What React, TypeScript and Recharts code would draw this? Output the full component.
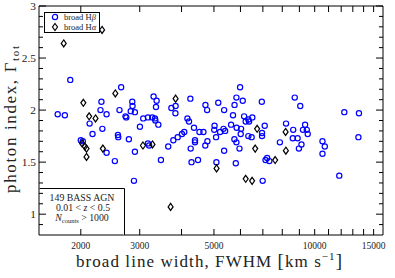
import { ScatterChart, Scatter, XAxis, YAxis, ReferenceArea, Legend, Label } from 'recharts';

// broad Hbeta sample: FWHM [km/s] and photon index
const hbetaFwhm = [
  1706, 1792, 1860, 2000, 2028, 2125, 2168, 2290, 2305, 2320, 2388, 2388, 2528, 2582, 2588, 2610,
  2640, 2720, 2735, 2784, 2820, 2850, 2855, 2883, 2902, 2902, 3004, 3073, 3174, 3174, 3200, 3270,
  3300, 3332, 3340, 3355, 3370, 3410, 3471, 3650, 3730, 3780, 3840, 3835, 3895, 4012, 4076, 4165,
  4211, 4250, 4260, 4284, 4358, 4388, 4388, 4480, 4525, 4650, 4710, 4715, 4770, 4780, 5020, 5010,
  5073, 5085, 5150, 5215, 5362, 5340, 5400, 5362, 5625, 5700, 5760, 5755, 5810, 5835, 5845, 5835,
  5960, 5984, 6025, 6010, 6095, 6152, 6220, 6335, 6368, 6510, 6335, 6480, 6950, 6960, 6960, 6990,
  7090, 7130, 7210, 7320, 7870, 8210, 8626, 8600, 8716, 8890, 8970, 9054, 9130, 9225, 9360, 9470,
  9530, 10550, 10720, 10550, 11842, 12260, 13560, 13510,
];
const hbetaGamma = [
  1.96, 1.95, 2.29, 1.71, 1.70, 1.87, 1.77, 2.00, 2.08, 1.82, 1.96, 1.59, 1.51, 1.76, 1.74, 2.00,
  2.22, 1.94, 1.93, 1.72, 1.99, 2.08, 2.04, 1.32, 1.98, 1.60, 1.84, 1.92, 1.93, 1.68, 1.66, 1.93,
  2.13, 1.92, 1.90, 2.03, 2.09, 1.86, 1.52, 1.65, 2.02, 1.71, 2.04, 1.97, 1.74, 1.77, 1.79, 1.92,
  1.89, 2.11, 1.63, 1.50, 1.83, 1.71, 1.69, 1.52, 1.79, 1.79, 1.66, 2.05, 2.00, 1.70, 1.85, 1.81,
  1.74, 1.50, 2.07, 1.79, 2.00, 1.82, 1.80, 1.61, 1.86, 1.95, 2.05, 1.72, 1.49, 2.12, 1.83, 1.69,
  1.63, 2.22, 1.82, 1.77, 2.09, 1.94, 1.89, 1.91, 1.89, 1.93, 1.75, 1.74, 2.08, 1.78, 1.75, 1.32,
  1.85, 1.52, 1.54, 1.51, 1.69, 1.87, 1.81, 1.73, 2.12, 1.73, 1.63, 2.04, 1.67, 1.81, 1.86, 1.81,
  1.77, 1.70, 1.65, 1.58, 1.37, 1.98, 1.97, 1.74,
];

// broad Halpha sample
const halphaFwhm = [
  1778, 2315, 2536, 2035, 2118, 2213, 2018, 2056, 2080, 2080, 2328, 3067, 3275, 3710, 3840, 5090,
  6220, 6500, 6640, 6729, 7618, 8185, 8200,
];
const halphaGamma = [
  2.64, 2.77, 2.16, 2.07, 1.94, 1.92, 1.68, 1.65, 1.63, 1.55, 1.63, 1.66, 1.67, 1.07, 2.11, 1.44,
  1.34, 1.32, 1.63, 1.82, 1.52, 1.79, 1.61,
];

const xTicks = [2000, 3000, 4000, 5000, 6000, 7000, 8000, 9000, 10000, 11000, 12000, 13000, 14000, 15000];
const xTickLabels = [2000, 3000, 5000, 10000, 15000];
const yTicks = [0.9, 1, 1.1, 1.2, 1.3, 1.4, 1.5, 1.6, 1.7, 1.8, 1.9, 2, 2.1, 2.2, 2.3, 2.4, 2.5, 2.6, 2.7, 2.8, 2.9, 3];
const yTickLabels = [1, 1.5, 2, 2.5, 3];

const hbeta = hbetaFwhm.map((fwhm, i) => ({ fwhm, gamma: hbetaGamma[i] }));
const halpha = halphaFwhm.map((fwhm, i) => ({ fwhm, gamma: halphaGamma[i] }));

const PLOT_W = 344;
const PLOT_H = 229;
const SERIF = '"Liberation Serif", "DejaVu Serif", serif';
const INK = '#222';
const BLUE = '#0000ff';

const Circle = ({ cx, cy }: any) => (
  <circle cx={cx} cy={cy} r={2.6} fill="none" stroke={BLUE} strokeWidth={1.2} />
);

const Diamond = ({ cx, cy }: any) => (
  <path
    d={`M${cx},${cy - 3.5}L${cx + 2.5},${cy}L${cx},${cy + 3.5}L${cx - 2.5},${cy}Z`}
    fill="none"
    stroke="#000"
    strokeWidth={1.2}
  />
);

// ticks point inward, mirrored onto the top edge
const XTick = ({ x, y, payload }: any) => {
  const v = payload.value;
  return (
    <g>
      <line x1={x} x2={x} y1={y} y2={y - 6} stroke="#000" />
      <line x1={x} x2={x} y1={y - PLOT_H} y2={y - PLOT_H + 6} stroke="#000" />
      {xTickLabels.includes(v) && (
        <text x={x} y={y + 14} textAnchor="middle" fontSize={9.5} fontFamily={SERIF} fill={INK}>
          {v}
        </text>
      )}
    </g>
  );
};

// mirrored onto the right edge
const YTick = ({ x, y, payload }: any) => {
  const v = payload.value;
  const major = yTickLabels.some((l) => Math.abs(l - v) < 1e-6);
  const len = major ? 7 : 4;
  return (
    <g>
      <line x1={x} x2={x + len} y1={y} y2={y} stroke="#000" />
      <line x1={x + PLOT_W} x2={x + PLOT_W - len} y1={y} y2={y} stroke="#000" />
      {major && (
        <text x={x - 3} y={y + 4} textAnchor="end" fontSize={11.4} fontFamily={SERIF} fill={INK}>
          {v}
        </text>
      )}
    </g>
  );
};

const XTitle = () => (
  <text x={76} y={267} fontSize={17} fontFamily={SERIF} fill={INK} textLength={266} lengthAdjust="spacing">
    broad line width, FWHM <tspan fontSize={19}>[</tspan>km s<tspan dy={-7} fontSize={11}>−1</tspan>
    <tspan dy={7} fontSize={19}>]</tspan>
  </text>
);

const YTitle = () => (
  <text
    transform="translate(16,119.5) rotate(-90)"
    textAnchor="middle"
    fontSize={17}
    fontFamily={SERIF}
    fill={INK}
    textLength={147}
    lengthAdjust="spacing"
  >
    photon index, Γ<tspan dy={3} fontSize={11}>tot</tspan>
  </text>
);

const LegendBox = () => (
  <svg width={56} height={21} style={{ display: 'block' }}>
    <rect x={0.5} y={0.5} width={55} height={20} fill="#fff" stroke="#000" />
    <Circle cx={11} cy={5} />
    <text x={20} y={8} fontSize={8.5} fontFamily={SERIF} fill={INK}>
      broad H<tspan fontStyle="italic">β</tspan>
    </text>
    <Diamond cx={11} cy={15} />
    <text x={20} y={18} fontSize={8.5} fontFamily={SERIF} fill={INK}>
      broad H<tspan fontStyle="italic">α</tspan>
    </text>
  </svg>
);

export default function App() {
  return (
    <div style={{ position: 'absolute', left: 0, top: 0, width: 395, height: 278, background: '#fff' }}>
      <ScatterChart width={395} height={278} margin={{ top: 6, right: 12, bottom: 0, left: 0 }}>
        <XAxis
          type="number"
          dataKey="fwhm"
          scale="log"
          domain={[1500, 16000]}
          allowDataOverflow
          ticks={xTicks}
          interval={0}
          tick={<XTick />}
          tickLine={false}
          axisLine={false}
          tickSize={0}
          tickMargin={0}
          height={43}
          label={<Label content={<XTitle />} />}
        />
        <YAxis
          type="number"
          dataKey="gamma"
          domain={[0.8, 3]}
          allowDataOverflow
          ticks={yTicks}
          interval={0}
          tick={<YTick />}
          tickLine={false}
          axisLine={false}
          tickSize={0}
          tickMargin={0}
          width={39}
          label={<Label content={<YTitle />} />}
        />
        <ReferenceArea x1={1500} x2={16000} y1={0.8} y2={3} fill="none" stroke="#000" strokeWidth={1} />
        <Scatter name="broad Hβ" data={hbeta} shape={<Circle />} isAnimationActive={false} />
        <Scatter name="broad Hα" data={halpha} shape={<Diamond />} isAnimationActive={false} />
        <Legend
          layout="vertical"
          verticalAlign="middle"
          align="center"
          wrapperStyle={{ left: 44, top: 12, width: 56, height: 21 }}
          content={<LegendBox />}
        />
      </ScatterChart>
      <svg
        width={395}
        height={278}
        style={{ position: 'absolute', left: 0, top: 0, pointerEvents: 'none' }}
        fontFamily={SERIF}
        fill={INK}
      >
        <path d="M39.5,188.5H124.5V235" fill="#fff" stroke="#000" />
        <text x={82} y={201} textAnchor="middle" fontSize={9.8}>149 BASS AGN</text>
        <text x={83} y={211.3} textAnchor="middle" fontSize={9.8}>
          0.01 &lt; <tspan fontStyle="italic">z</tspan> &lt; 0.5
        </text>
        <text x={82} y={221} textAnchor="middle" fontSize={9.8}>
          <tspan fontStyle="italic">N</tspan>
          <tspan dy={2} fontSize={6.5}>counts</tspan>
          <tspan dy={-2}> &gt; 1000</tspan>
        </text>
      </svg>
    </div>
  );
}
